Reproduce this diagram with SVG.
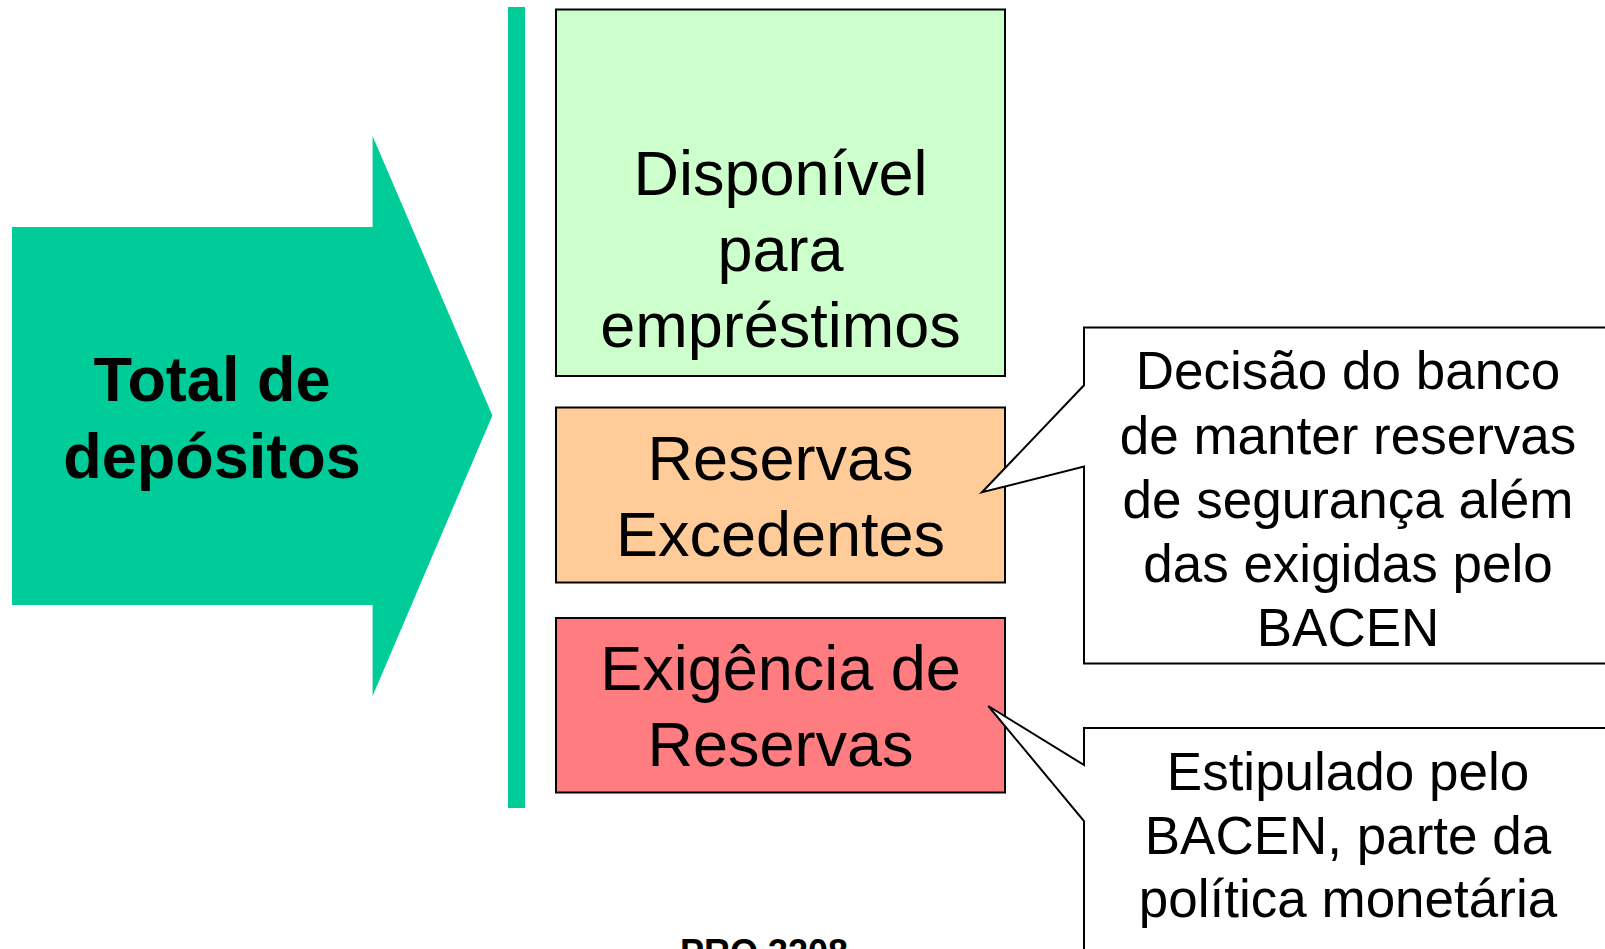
<svg xmlns="http://www.w3.org/2000/svg" width="1605" height="949" viewBox="0 0 1605 949">
<style>
.box{stroke:#000;stroke-width:2}
.t{font-family:"Liberation Sans",Arial,sans-serif;fill:#000;text-anchor:middle}
.big{font-size:63px}
.bold{font-size:63px;font-weight:bold}
.call{font-size:53px}
.callout{fill:#fff;stroke:#000;stroke-width:2;stroke-linejoin:miter}
</style>
<rect width="1605" height="949" fill="#fff"/>
<g id="arrow">
<path d="M12,227 H372.6 V136 L492.4,415.4 L372.6,696 V605 H12 Z" fill="#00CC99"/>
<text class="t bold" x="212" y="401">Total de</text>
<text class="t bold" x="212" y="478">depósitos</text>
</g>
<g id="bar">
<rect x="508" y="7" width="17" height="801" fill="#00CC99"/>
</g>
<g id="disponivel">
<rect class="box" x="556" y="9.5" width="449" height="366.5" fill="#CCFFCC"/>
<text class="t big" x="780.5" y="195">Disponível</text>
<text class="t big" x="780.5" y="271">para</text>
<text class="t big" x="780.5" y="347">empréstimos</text>
</g>
<g id="excedentes">
<rect class="box" x="556" y="407.5" width="449" height="175" fill="#FFCC99"/>
<text class="t big" x="780.5" y="479.5">Reservas</text>
<text class="t big" x="780.5" y="555.5">Excedentes</text>
</g>
<g id="exigencia">
<rect class="box" x="556" y="618" width="449" height="174.5" fill="#FF7C80"/>
<text class="t big" x="780.5" y="689.5">Exigência de</text>
<text class="t big" x="780.5" y="765.5">Reservas</text>
</g>
<g id="connectors">
<path class="callout" d="M1084,327.5 H1625 V663.5 H1084 V466.5 L982,492.3 L1084,385.3 Z"/>
<path class="callout" d="M1084,728 H1625 V970 H1084 V821 L988.3,706 L1084,765 Z"/>
</g>
<g id="callout-decisao">
<text class="t call" x="1348" y="389">Decisão do banco</text>
<text class="t call" x="1348" y="453.5">de manter reservas</text>
<text class="t call" x="1348" y="518">de segurança além</text>
<text class="t call" x="1348" y="582">das exigidas pelo</text>
<text class="t call" x="1348" y="646">BACEN</text>
</g>
<g id="callout-estipulado">
<text class="t call" x="1348" y="790">Estipulado pelo</text>
<text class="t call" x="1348" y="853.5">BACEN, parte da</text>
<text class="t call" x="1348" y="917">política monetária</text>
</g>
<g id="footer">
<text class="t" x="764" y="965" font-size="36" font-weight="bold">PRO 3208</text>
</g>
</svg>
